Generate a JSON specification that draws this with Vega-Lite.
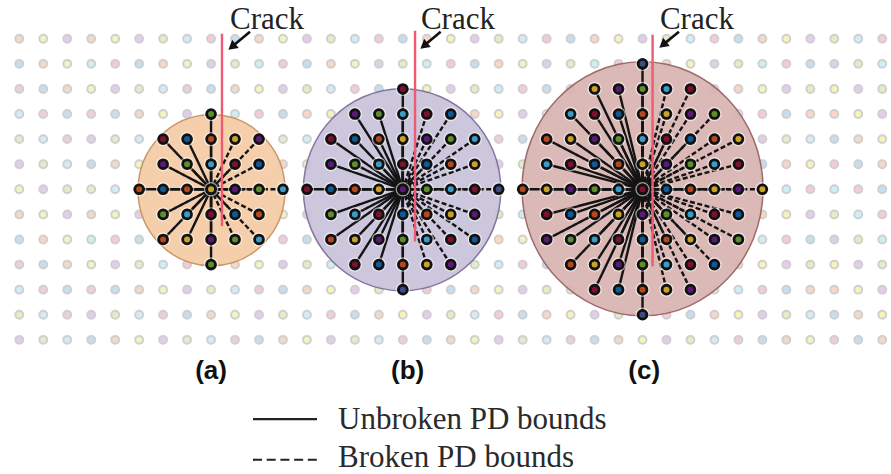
{"$schema":"https://vega.github.io/schema/vega-lite/v6.json","width":891,"height":474,"padding":0,"autosize":{"type":"fit","contains":"padding"},"background":"white","config":{"view":{"stroke":null}},
"encoding":{"x":{"field":"i","type":"quantitative","axis":null,"scale":{"domain":[-0.805,36.366],"nice":false,"zero":false}},"y":{"field":"j","type":"quantitative","axis":null,"scale":{"domain":[-1.545,17.228],"reverse":true,"nice":false,"zero":false}}},
"resolve":{"scale":{"fill":"independent"}},
"data":{"values":[
{"i":0,"j":0,"c":"o"},{"i":1,"j":0,"c":"y"},{"i":2,"j":0,"c":"p"},{"i":3,"j":0,"c":"o"},{"i":4,"j":0,"c":"y"},{"i":5,"j":0,"c":"p"},{"i":6,"j":0,"c":"g"},{"i":7,"j":0,"c":"c"},{"i":8,"j":0,"c":"r"},{"i":9,"j":0,"c":"b"},{"i":10,"j":0,"c":"o"},{"i":11,"j":0,"c":"y"},{"i":12,"j":0,"c":"p"},{"i":13,"j":0,"c":"g"},{"i":14,"j":0,"c":"c"},{"i":15,"j":0,"c":"r"},{"i":16,"j":0,"c":"b"},{"i":17,"j":0,"c":"o"},{"i":18,"j":0,"c":"y"},{"i":19,"j":0,"c":"p"},{"i":20,"j":0,"c":"g"},{"i":21,"j":0,"c":"c"},{"i":22,"j":0,"c":"r"},{"i":23,"j":0,"c":"b"},{"i":24,"j":0,"c":"o"},{"i":25,"j":0,"c":"y"},{"i":26,"j":0,"c":"p"},{"i":27,"j":0,"c":"g"},{"i":28,"j":0,"c":"c"},{"i":29,"j":0,"c":"r"},{"i":30,"j":0,"c":"b"},{"i":31,"j":0,"c":"o"},{"i":32,"j":0,"c":"y"},{"i":33,"j":0,"c":"p"},{"i":34,"j":0,"c":"g"},{"i":35,"j":0,"c":"c"},{"i":36,"j":0,"c":"r"},
{"i":0,"j":1,"c":"b"},{"i":1,"j":1,"c":"o"},{"i":2,"j":1,"c":"y"},{"i":3,"j":1,"c":"c"},{"i":4,"j":1,"c":"r"},{"i":5,"j":1,"c":"b"},{"i":6,"j":1,"c":"o"},{"i":7,"j":1,"c":"y"},{"i":8,"j":1,"c":"p"},{"i":9,"j":1,"c":"g"},{"i":10,"j":1,"c":"c"},{"i":11,"j":1,"c":"r"},{"i":12,"j":1,"c":"b"},{"i":13,"j":1,"c":"o"},{"i":14,"j":1,"c":"y"},{"i":15,"j":1,"c":"p"},{"i":16,"j":1,"c":"g"},{"i":17,"j":1,"c":"c"},{"i":18,"j":1,"c":"r"},{"i":19,"j":1,"c":"b"},{"i":20,"j":1,"c":"o"},{"i":21,"j":1,"c":"y"},{"i":22,"j":1,"c":"p"},{"i":23,"j":1,"c":"g"},{"i":24,"j":1,"c":"c"},{"i":25,"j":1,"c":"r"},{"i":26,"j":1,"c":"s","cx":26,"t":"u"},{"i":27,"j":1,"c":"o"},{"i":28,"j":1,"c":"y"},{"i":29,"j":1,"c":"p"},{"i":30,"j":1,"c":"g"},{"i":31,"j":1,"c":"c"},{"i":32,"j":1,"c":"r"},{"i":33,"j":1,"c":"b"},{"i":34,"j":1,"c":"p"},{"i":35,"j":1,"c":"g"},{"i":36,"j":1,"c":"c"},
{"i":0,"j":2,"c":"r"},{"i":1,"j":2,"c":"b"},{"i":2,"j":2,"c":"o"},{"i":3,"j":2,"c":"y"},{"i":4,"j":2,"c":"p"},{"i":5,"j":2,"c":"g"},{"i":6,"j":2,"c":"c"},{"i":7,"j":2,"c":"r"},{"i":8,"j":2,"c":"b"},{"i":9,"j":2,"c":"o"},{"i":10,"j":2,"c":"y"},{"i":11,"j":2,"c":"p"},{"i":12,"j":2,"c":"g"},{"i":13,"j":2,"c":"c"},{"i":14,"j":2,"c":"r"},{"i":15,"j":2,"c":"b"},{"i":16,"j":2,"c":"r","cx":16,"t":"u"},{"i":17,"j":2,"c":"y"},{"i":18,"j":2,"c":"p"},{"i":19,"j":2,"c":"g"},{"i":20,"j":2,"c":"c"},{"i":21,"j":2,"c":"r"},{"i":22,"j":2,"c":"b"},{"i":23,"j":2,"c":"o"},{"i":24,"j":2,"c":"y","cx":26,"t":"u"},{"i":25,"j":2,"c":"p","cx":26,"t":"u"},{"i":26,"j":2,"c":"g","cx":26,"t":"u"},{"i":27,"j":2,"c":"c","cx":26,"t":"b"},{"i":28,"j":2,"c":"r","cx":26,"t":"b"},{"i":29,"j":2,"c":"b"},{"i":30,"j":2,"c":"o"},{"i":31,"j":2,"c":"y"},{"i":32,"j":2,"c":"p"},{"i":33,"j":2,"c":"g"},{"i":34,"j":2,"c":"y"},{"i":35,"j":2,"c":"p"},{"i":36,"j":2,"c":"g"},
{"i":0,"j":3,"c":"c"},{"i":1,"j":3,"c":"r"},{"i":2,"j":3,"c":"b"},{"i":3,"j":3,"c":"r"},{"i":4,"j":3,"c":"b"},{"i":5,"j":3,"c":"o"},{"i":6,"j":3,"c":"y"},{"i":7,"j":3,"c":"p"},{"i":8,"j":3,"c":"g","cx":8,"t":"u"},{"i":9,"j":3,"c":"c"},{"i":10,"j":3,"c":"r"},{"i":11,"j":3,"c":"b"},{"i":12,"j":3,"c":"o"},{"i":13,"j":3,"c":"y"},{"i":14,"j":3,"c":"p","cx":16,"t":"u"},{"i":15,"j":3,"c":"g","cx":16,"t":"u"},{"i":16,"j":3,"c":"c","cx":16,"t":"u"},{"i":17,"j":3,"c":"r","cx":16,"t":"b"},{"i":18,"j":3,"c":"b","cx":16,"t":"b"},{"i":19,"j":3,"c":"o"},{"i":20,"j":3,"c":"y"},{"i":21,"j":3,"c":"p"},{"i":22,"j":3,"c":"g"},{"i":23,"j":3,"c":"c","cx":26,"t":"u"},{"i":24,"j":3,"c":"r","cx":26,"t":"u"},{"i":25,"j":3,"c":"b","cx":26,"t":"u"},{"i":26,"j":3,"c":"o","cx":26,"t":"u"},{"i":27,"j":3,"c":"y","cx":26,"t":"b"},{"i":28,"j":3,"c":"p","cx":26,"t":"b"},{"i":29,"j":3,"c":"g","cx":26,"t":"b"},{"i":30,"j":3,"c":"c"},{"i":31,"j":3,"c":"r"},{"i":32,"j":3,"c":"b"},{"i":33,"j":3,"c":"o"},{"i":34,"j":3,"c":"o"},{"i":35,"j":3,"c":"y"},{"i":36,"j":3,"c":"p"},
{"i":0,"j":4,"c":"g"},{"i":1,"j":4,"c":"c"},{"i":2,"j":4,"c":"r"},{"i":3,"j":4,"c":"p"},{"i":4,"j":4,"c":"g"},{"i":5,"j":4,"c":"c"},{"i":6,"j":4,"c":"r","cx":8,"t":"u"},{"i":7,"j":4,"c":"b","cx":8,"t":"u"},{"i":8,"j":4,"c":"o","cx":8,"t":"u"},{"i":9,"j":4,"c":"y","cx":8,"t":"b"},{"i":10,"j":4,"c":"p","cx":8,"t":"b"},{"i":11,"j":4,"c":"g"},{"i":12,"j":4,"c":"c"},{"i":13,"j":4,"c":"r","cx":16,"t":"u"},{"i":14,"j":4,"c":"b","cx":16,"t":"u"},{"i":15,"j":4,"c":"o","cx":16,"t":"u"},{"i":16,"j":4,"c":"y","cx":16,"t":"u"},{"i":17,"j":4,"c":"p","cx":16,"t":"b"},{"i":18,"j":4,"c":"g","cx":16,"t":"b"},{"i":19,"j":4,"c":"c","cx":16,"t":"b"},{"i":20,"j":4,"c":"r"},{"i":21,"j":4,"c":"b"},{"i":22,"j":4,"c":"o","cx":26,"t":"u"},{"i":23,"j":4,"c":"y","cx":26,"t":"u"},{"i":24,"j":4,"c":"p","cx":26,"t":"u"},{"i":25,"j":4,"c":"g","cx":26,"t":"u"},{"i":26,"j":4,"c":"c","cx":26,"t":"u"},{"i":27,"j":4,"c":"r","cx":26,"t":"b"},{"i":28,"j":4,"c":"b","cx":26,"t":"b"},{"i":29,"j":4,"c":"o","cx":26,"t":"b"},{"i":30,"j":4,"c":"y","cx":26,"t":"b"},{"i":31,"j":4,"c":"p"},{"i":32,"j":4,"c":"g"},{"i":33,"j":4,"c":"c"},{"i":34,"j":4,"c":"b"},{"i":35,"j":4,"c":"o"},{"i":36,"j":4,"c":"y"},
{"i":0,"j":5,"c":"p"},{"i":1,"j":5,"c":"g"},{"i":2,"j":5,"c":"c"},{"i":3,"j":5,"c":"b"},{"i":4,"j":5,"c":"o"},{"i":5,"j":5,"c":"y"},{"i":6,"j":5,"c":"p","cx":8,"t":"u"},{"i":7,"j":5,"c":"g","cx":8,"t":"u"},{"i":8,"j":5,"c":"c","cx":8,"t":"u"},{"i":9,"j":5,"c":"r","cx":8,"t":"b"},{"i":10,"j":5,"c":"b","cx":8,"t":"b"},{"i":11,"j":5,"c":"o"},{"i":12,"j":5,"c":"y"},{"i":13,"j":5,"c":"p","cx":16,"t":"u"},{"i":14,"j":5,"c":"g","cx":16,"t":"u"},{"i":15,"j":5,"c":"c","cx":16,"t":"u"},{"i":16,"j":5,"c":"r","cx":16,"t":"u"},{"i":17,"j":5,"c":"b","cx":16,"t":"b"},{"i":18,"j":5,"c":"o","cx":16,"t":"b"},{"i":19,"j":5,"c":"y","cx":16,"t":"b"},{"i":20,"j":5,"c":"p"},{"i":21,"j":5,"c":"g"},{"i":22,"j":5,"c":"c","cx":26,"t":"u"},{"i":23,"j":5,"c":"r","cx":26,"t":"u"},{"i":24,"j":5,"c":"b","cx":26,"t":"u"},{"i":25,"j":5,"c":"o","cx":26,"t":"u"},{"i":26,"j":5,"c":"y","cx":26,"t":"u"},{"i":27,"j":5,"c":"p","cx":26,"t":"b"},{"i":28,"j":5,"c":"g","cx":26,"t":"b"},{"i":29,"j":5,"c":"c","cx":26,"t":"b"},{"i":30,"j":5,"c":"r","cx":26,"t":"b"},{"i":31,"j":5,"c":"b"},{"i":32,"j":5,"c":"o"},{"i":33,"j":5,"c":"y"},{"i":34,"j":5,"c":"r"},{"i":35,"j":5,"c":"b"},{"i":36,"j":5,"c":"o"},
{"i":0,"j":6,"c":"y"},{"i":1,"j":6,"c":"p"},{"i":2,"j":6,"c":"g"},{"i":3,"j":6,"c":"g"},{"i":4,"j":6,"c":"c"},{"i":5,"j":6,"c":"o","cx":8,"t":"u"},{"i":6,"j":6,"c":"b","cx":8,"t":"u"},{"i":7,"j":6,"c":"o","cx":8,"t":"u"},{"i":8,"j":6,"c":"y","cx":8,"t":"u"},{"i":9,"j":6,"c":"p","cx":8,"t":"b"},{"i":10,"j":6,"c":"g","cx":8,"t":"b"},{"i":11,"j":6,"c":"c","cx":8,"t":"b"},{"i":12,"j":6,"c":"r","cx":16,"t":"u"},{"i":13,"j":6,"c":"b","cx":16,"t":"u"},{"i":14,"j":6,"c":"o","cx":16,"t":"u"},{"i":15,"j":6,"c":"y","cx":16,"t":"u"},{"i":16,"j":6,"c":"p","cx":16,"t":"u"},{"i":17,"j":6,"c":"g","cx":16,"t":"b"},{"i":18,"j":6,"c":"c","cx":16,"t":"b"},{"i":19,"j":6,"c":"r","cx":16,"t":"b"},{"i":20,"j":6,"c":"s","cx":16,"t":"b"},{"i":21,"j":6,"c":"o","cx":26,"t":"u"},{"i":22,"j":6,"c":"y","cx":26,"t":"u"},{"i":23,"j":6,"c":"p","cx":26,"t":"u"},{"i":24,"j":6,"c":"g","cx":26,"t":"u"},{"i":25,"j":6,"c":"c","cx":26,"t":"u"},{"i":26,"j":6,"c":"r","cx":26,"t":"u"},{"i":27,"j":6,"c":"b","cx":26,"t":"b"},{"i":28,"j":6,"c":"o","cx":26,"t":"b"},{"i":29,"j":6,"c":"y","cx":26,"t":"b"},{"i":30,"j":6,"c":"p","cx":26,"t":"b"},{"i":31,"j":6,"c":"y","cx":26,"t":"b"},{"i":32,"j":6,"c":"c"},{"i":33,"j":6,"c":"r"},{"i":34,"j":6,"c":"c"},{"i":35,"j":6,"c":"r"},{"i":36,"j":6,"c":"b"},
{"i":0,"j":7,"c":"o"},{"i":1,"j":7,"c":"y"},{"i":2,"j":7,"c":"p"},{"i":3,"j":7,"c":"o"},{"i":4,"j":7,"c":"y"},{"i":5,"j":7,"c":"p"},{"i":6,"j":7,"c":"g","cx":8,"t":"u"},{"i":7,"j":7,"c":"c","cx":8,"t":"u"},{"i":8,"j":7,"c":"r","cx":8,"t":"u"},{"i":9,"j":7,"c":"b","cx":8,"t":"b"},{"i":10,"j":7,"c":"o","cx":8,"t":"b"},{"i":11,"j":7,"c":"y"},{"i":12,"j":7,"c":"p"},{"i":13,"j":7,"c":"g","cx":16,"t":"u"},{"i":14,"j":7,"c":"c","cx":16,"t":"u"},{"i":15,"j":7,"c":"r","cx":16,"t":"u"},{"i":16,"j":7,"c":"b","cx":16,"t":"u"},{"i":17,"j":7,"c":"o","cx":16,"t":"b"},{"i":18,"j":7,"c":"y","cx":16,"t":"b"},{"i":19,"j":7,"c":"p","cx":16,"t":"b"},{"i":20,"j":7,"c":"g"},{"i":21,"j":7,"c":"c"},{"i":22,"j":7,"c":"r","cx":26,"t":"u"},{"i":23,"j":7,"c":"b","cx":26,"t":"u"},{"i":24,"j":7,"c":"o","cx":26,"t":"u"},{"i":25,"j":7,"c":"y","cx":26,"t":"u"},{"i":26,"j":7,"c":"p","cx":26,"t":"u"},{"i":27,"j":7,"c":"g","cx":26,"t":"b"},{"i":28,"j":7,"c":"c","cx":26,"t":"b"},{"i":29,"j":7,"c":"r","cx":26,"t":"b"},{"i":30,"j":7,"c":"b","cx":26,"t":"b"},{"i":31,"j":7,"c":"o"},{"i":32,"j":7,"c":"y"},{"i":33,"j":7,"c":"p"},{"i":34,"j":7,"c":"g"},{"i":35,"j":7,"c":"c"},{"i":36,"j":7,"c":"r"},
{"i":0,"j":8,"c":"b"},{"i":1,"j":8,"c":"o"},{"i":2,"j":8,"c":"y"},{"i":3,"j":8,"c":"c"},{"i":4,"j":8,"c":"r"},{"i":5,"j":8,"c":"b"},{"i":6,"j":8,"c":"o","cx":8,"t":"u"},{"i":7,"j":8,"c":"y","cx":8,"t":"u"},{"i":8,"j":8,"c":"p","cx":8,"t":"u"},{"i":9,"j":8,"c":"g","cx":8,"t":"b"},{"i":10,"j":8,"c":"c","cx":8,"t":"b"},{"i":11,"j":8,"c":"r"},{"i":12,"j":8,"c":"b"},{"i":13,"j":8,"c":"o","cx":16,"t":"u"},{"i":14,"j":8,"c":"y","cx":16,"t":"u"},{"i":15,"j":8,"c":"p","cx":16,"t":"u"},{"i":16,"j":8,"c":"g","cx":16,"t":"u"},{"i":17,"j":8,"c":"c","cx":16,"t":"b"},{"i":18,"j":8,"c":"r","cx":16,"t":"b"},{"i":19,"j":8,"c":"b","cx":16,"t":"b"},{"i":20,"j":8,"c":"o"},{"i":21,"j":8,"c":"y"},{"i":22,"j":8,"c":"p","cx":26,"t":"u"},{"i":23,"j":8,"c":"g","cx":26,"t":"u"},{"i":24,"j":8,"c":"c","cx":26,"t":"u"},{"i":25,"j":8,"c":"r","cx":26,"t":"u"},{"i":26,"j":8,"c":"b","cx":26,"t":"u"},{"i":27,"j":8,"c":"o","cx":26,"t":"b"},{"i":28,"j":8,"c":"y","cx":26,"t":"b"},{"i":29,"j":8,"c":"p","cx":26,"t":"b"},{"i":30,"j":8,"c":"g","cx":26,"t":"b"},{"i":31,"j":8,"c":"c"},{"i":32,"j":8,"c":"r"},{"i":33,"j":8,"c":"b"},{"i":34,"j":8,"c":"p"},{"i":35,"j":8,"c":"g"},{"i":36,"j":8,"c":"c"},
{"i":0,"j":9,"c":"r"},{"i":1,"j":9,"c":"b"},{"i":2,"j":9,"c":"o"},{"i":3,"j":9,"c":"y"},{"i":4,"j":9,"c":"p"},{"i":5,"j":9,"c":"g"},{"i":6,"j":9,"c":"c"},{"i":7,"j":9,"c":"r"},{"i":8,"j":9,"c":"g","cx":8,"t":"u"},{"i":9,"j":9,"c":"o"},{"i":10,"j":9,"c":"y"},{"i":11,"j":9,"c":"p"},{"i":12,"j":9,"c":"g"},{"i":13,"j":9,"c":"c"},{"i":14,"j":9,"c":"r","cx":16,"t":"u"},{"i":15,"j":9,"c":"b","cx":16,"t":"u"},{"i":16,"j":9,"c":"o","cx":16,"t":"u"},{"i":17,"j":9,"c":"y","cx":16,"t":"b"},{"i":18,"j":9,"c":"p","cx":16,"t":"b"},{"i":19,"j":9,"c":"g"},{"i":20,"j":9,"c":"c"},{"i":21,"j":9,"c":"r"},{"i":22,"j":9,"c":"b"},{"i":23,"j":9,"c":"o","cx":26,"t":"u"},{"i":24,"j":9,"c":"y","cx":26,"t":"u"},{"i":25,"j":9,"c":"p","cx":26,"t":"u"},{"i":26,"j":9,"c":"g","cx":26,"t":"u"},{"i":27,"j":9,"c":"c","cx":26,"t":"b"},{"i":28,"j":9,"c":"r","cx":26,"t":"b"},{"i":29,"j":9,"c":"b","cx":26,"t":"b"},{"i":30,"j":9,"c":"o"},{"i":31,"j":9,"c":"y"},{"i":32,"j":9,"c":"p"},{"i":33,"j":9,"c":"g"},{"i":34,"j":9,"c":"y"},{"i":35,"j":9,"c":"p"},{"i":36,"j":9,"c":"g"},
{"i":0,"j":10,"c":"c"},{"i":1,"j":10,"c":"r"},{"i":2,"j":10,"c":"b"},{"i":3,"j":10,"c":"r"},{"i":4,"j":10,"c":"b"},{"i":5,"j":10,"c":"o"},{"i":6,"j":10,"c":"y"},{"i":7,"j":10,"c":"p"},{"i":8,"j":10,"c":"g"},{"i":9,"j":10,"c":"c"},{"i":10,"j":10,"c":"r"},{"i":11,"j":10,"c":"b"},{"i":12,"j":10,"c":"o"},{"i":13,"j":10,"c":"y"},{"i":14,"j":10,"c":"p"},{"i":15,"j":10,"c":"g"},{"i":16,"j":10,"c":"s","cx":16,"t":"u"},{"i":17,"j":10,"c":"r"},{"i":18,"j":10,"c":"b"},{"i":19,"j":10,"c":"o"},{"i":20,"j":10,"c":"y"},{"i":21,"j":10,"c":"p"},{"i":22,"j":10,"c":"g"},{"i":23,"j":10,"c":"c"},{"i":24,"j":10,"c":"r","cx":26,"t":"u"},{"i":25,"j":10,"c":"b","cx":26,"t":"u"},{"i":26,"j":10,"c":"o","cx":26,"t":"u"},{"i":27,"j":10,"c":"y","cx":26,"t":"b"},{"i":28,"j":10,"c":"p","cx":26,"t":"b"},{"i":29,"j":10,"c":"g"},{"i":30,"j":10,"c":"c"},{"i":31,"j":10,"c":"r"},{"i":32,"j":10,"c":"b"},{"i":33,"j":10,"c":"o"},{"i":34,"j":10,"c":"o"},{"i":35,"j":10,"c":"y"},{"i":36,"j":10,"c":"p"},
{"i":0,"j":11,"c":"g"},{"i":1,"j":11,"c":"c"},{"i":2,"j":11,"c":"r"},{"i":3,"j":11,"c":"p"},{"i":4,"j":11,"c":"g"},{"i":5,"j":11,"c":"c"},{"i":6,"j":11,"c":"r"},{"i":7,"j":11,"c":"b"},{"i":8,"j":11,"c":"o"},{"i":9,"j":11,"c":"y"},{"i":10,"j":11,"c":"p"},{"i":11,"j":11,"c":"g"},{"i":12,"j":11,"c":"c"},{"i":13,"j":11,"c":"r"},{"i":14,"j":11,"c":"b"},{"i":15,"j":11,"c":"o"},{"i":16,"j":11,"c":"y"},{"i":17,"j":11,"c":"p"},{"i":18,"j":11,"c":"g"},{"i":19,"j":11,"c":"c"},{"i":20,"j":11,"c":"r"},{"i":21,"j":11,"c":"b"},{"i":22,"j":11,"c":"o"},{"i":23,"j":11,"c":"y"},{"i":24,"j":11,"c":"p"},{"i":25,"j":11,"c":"g"},{"i":26,"j":11,"c":"s","cx":26,"t":"u"},{"i":27,"j":11,"c":"r"},{"i":28,"j":11,"c":"b"},{"i":29,"j":11,"c":"o"},{"i":30,"j":11,"c":"y"},{"i":31,"j":11,"c":"p"},{"i":32,"j":11,"c":"g"},{"i":33,"j":11,"c":"c"},{"i":34,"j":11,"c":"b"},{"i":35,"j":11,"c":"o"},{"i":36,"j":11,"c":"y"},
{"i":0,"j":12,"c":"p"},{"i":1,"j":12,"c":"g"},{"i":2,"j":12,"c":"c"},{"i":3,"j":12,"c":"b"},{"i":4,"j":12,"c":"o"},{"i":5,"j":12,"c":"y"},{"i":6,"j":12,"c":"p"},{"i":7,"j":12,"c":"g"},{"i":8,"j":12,"c":"c"},{"i":9,"j":12,"c":"r"},{"i":10,"j":12,"c":"b"},{"i":11,"j":12,"c":"o"},{"i":12,"j":12,"c":"y"},{"i":13,"j":12,"c":"p"},{"i":14,"j":12,"c":"g"},{"i":15,"j":12,"c":"c"},{"i":16,"j":12,"c":"r"},{"i":17,"j":12,"c":"b"},{"i":18,"j":12,"c":"o"},{"i":19,"j":12,"c":"y"},{"i":20,"j":12,"c":"p"},{"i":21,"j":12,"c":"g"},{"i":22,"j":12,"c":"c"},{"i":23,"j":12,"c":"r"},{"i":24,"j":12,"c":"b"},{"i":25,"j":12,"c":"o"},{"i":26,"j":12,"c":"y"},{"i":27,"j":12,"c":"p"},{"i":28,"j":12,"c":"g"},{"i":29,"j":12,"c":"c"},{"i":30,"j":12,"c":"r"},{"i":31,"j":12,"c":"b"},{"i":32,"j":12,"c":"o"},{"i":33,"j":12,"c":"y"},{"i":34,"j":12,"c":"r"},{"i":35,"j":12,"c":"b"},{"i":36,"j":12,"c":"o"}
]},
"layer":[
{"mark":{"type":"point","filled":true,"size":62,"stroke":"#cbcbcb","strokeWidth":2,"opacity":0.9},"encoding":{"fill":{"field":"c","type":"nominal","legend":null,"scale":{"domain":["o","y","p","g","c","r","b","s"],"range":["#f8d3bd","#f6f2b5","#e0c8ec","#dcf0bb","#c8eef7","#f3c6d3","#bcdcf2","#bcdcf2"]}}}},
{"data":{"values":[{"panel":"a","i":8.02,"j":6.04},{"panel":"b","i":15.97,"j":6.02},{"panel":"c","i":26.0,"j":5.98}]},
"mark":{"type":"point","filled":true,"strokeWidth":1.5,"opacity":0.92},
"encoding":{"shape":{"field":"panel","type":"nominal","legend":null,"scale":{"domain":["a","b","c"],"range":["M-1,0A1,1.027 0 1,1 1,0A1,1.027 0 1,1 -1,0Z","M-1,0A1,1.023 0 1,1 1,0A1,1.023 0 1,1 -1,0Z","M-1,0A1,1.054 0 1,1 1,0A1,1.054 0 1,1 -1,0Z"]}},
"size":{"field":"panel","type":"ordinal","legend":null,"scale":{"type":"ordinal","domain":["a","b","c"],"range":[21609,38966,58081]}},
"fill":{"field":"panel","type":"nominal","legend":null,"scale":{"domain":["a","b","c"],"range":["#f5cba5","#c8c3da","#d9b4b1"]}},
"stroke":{"field":"panel","type":"nominal","legend":null,"scale":{"domain":["a","b","c"],"range":["#c8905c","#7d6b99","#985f60"]}}}},
{"transform":[{"filter":"isValid(datum.cx)"}],"mark":{"type":"rule","strokeWidth":2.4,"color":"#141414"},
"encoding":{"x2":{"field":"cx"},"y2":{"datum":6},"strokeDash":{"field":"t","type":"nominal","legend":null,"scale":{"domain":["u","b"],"range":[[1,0],[5,2.5]]}}}},
{"data":{"values":[{"i":8.456,"j":-0.2,"j2":7.47},{"i":16.51,"j":-0.32,"j2":8.08},{"i":26.42,"j":-0.16,"j2":9.07}]},"mark":{"type":"rule","color":"#ee5a72","strokeWidth":2.4},"encoding":{"y2":{"field":"j2"}}},
{"transform":[{"filter":"isValid(datum.cx)"}],"mark":{"type":"point","filled":false,"size":170,"stroke":"#ffffff","strokeWidth":1.4,"opacity":0.55}},
{"transform":[{"filter":"isValid(datum.cx)"}],"mark":{"type":"point","filled":true,"size":78,"stroke":"#111111","strokeWidth":2.8,"opacity":1},"encoding":{"fill":{"field":"c","type":"nominal","legend":null,"scale":{"domain":["o","y","p","g","c","r","b","s"],"range":["#b5481f","#c9a227","#5b1a78","#5e8f2c","#3a9cc8","#7e1030","#0f5a98","#404d85"]}}}},
{"data":{"values":[{"i":9.624,"j":-0.277,"i2":8.87,"j2":0.32},{"i":17.58,"j":-0.28,"i2":16.88,"j2":0.28},{"i":27.52,"j":-0.28,"i2":26.85,"j2":0.24}]},"mark":{"type":"rule","color":"#111111","strokeWidth":2.6},"encoding":{"x2":{"field":"i2"},"y2":{"field":"j2"}}},
{"data":{"values":[{"i":8.87,"j":0.32},{"i":16.88,"j":0.28},{"i":26.85,"j":0.24}]},"mark":{"type":"point","shape":"triangle-up","filled":true,"size":110,"angle":231,"color":"#111111","opacity":1}},
{"data":{"values":[{"i":10.334,"j":-0.396,"txt":"Crack"},{"i":18.30,"j":-0.396,"txt":"Crack"},{"i":28.27,"j":-0.396,"txt":"Crack"}]},"mark":{"type":"text","font":"Liberation Serif","fontSize":31,"align":"center","baseline":"alphabetic","color":"#222222"},"encoding":{"text":{"field":"txt"}}},
{"data":{"values":[{"i":8.0,"j":13.545,"txt":"(a)"},{"i":16.2,"j":13.545,"txt":"(b)"},{"i":26.07,"j":13.545,"txt":"(c)"}]},"mark":{"type":"text","font":"Liberation Sans","fontWeight":"bold","fontSize":26,"align":"center","baseline":"alphabetic","color":"#111111"},"encoding":{"text":{"field":"txt"}}},
{"data":{"values":[{"i":9.75,"j":15.157,"i2":12.42}]},"mark":{"type":"rule","color":"#222222","strokeWidth":2.2},"encoding":{"x2":{"field":"i2"}}},
{"data":{"values":[{"i":9.75,"j":16.78,"i2":12.42}]},"mark":{"type":"rule","color":"#222222","strokeWidth":2.2,"strokeDash":[9,4.7]},"encoding":{"x2":{"field":"i2"}}},
{"data":{"values":[{"i":13.296,"j":15.55,"txt":"Unbroken PD bounds"},{"i":13.296,"j":17.07,"txt":"Broken PD bounds"}]},"mark":{"type":"text","font":"Liberation Serif","fontSize":31,"align":"left","baseline":"alphabetic","color":"#2a2a2a"},"encoding":{"text":{"field":"txt"}}}
]}
